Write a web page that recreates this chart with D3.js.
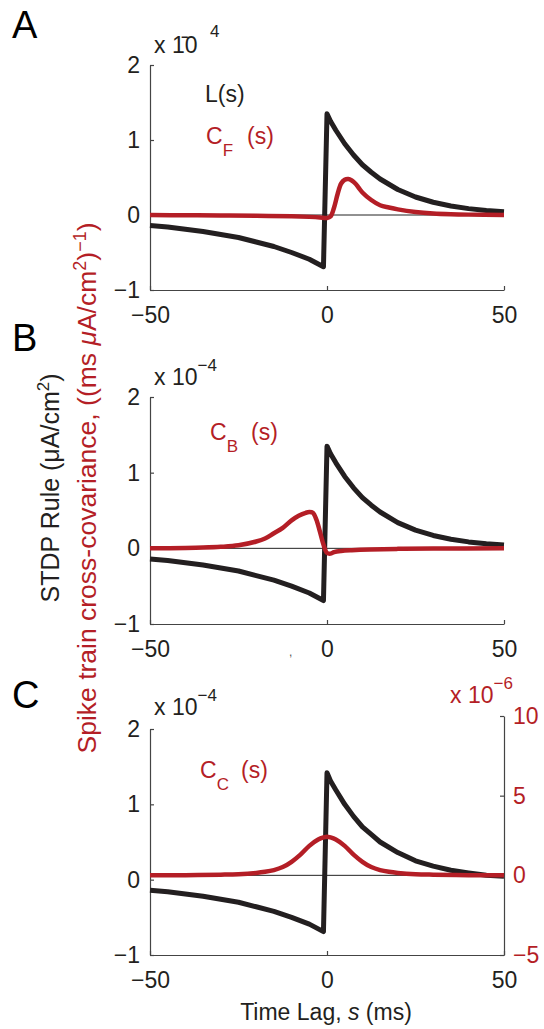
<!DOCTYPE html>
<html>
<head>
<meta charset="utf-8">
<script src="https://cdn.jsdelivr.net/npm/d3@7"></script>
<style>
body { margin: 0; background: #fff; }
svg { font-family: "Liberation Sans", Arial, Helvetica, sans-serif; }
.axis path, .axis line { stroke: #444; stroke-width: 1.2px; }
</style>
</head>
<body>
<div id="fig"></div>
<script>
// lags (ms) and values (x 1e-4)
var stdpLags = [-50, -45, -40, -35, -30, -25, -20, -15, -10, -5, -1, 0, 1, 2.5, 5, 7.5, 10, 12.5, 15, 20, 25, 30, 35, 40, 45, 50];
var stdpAB = [-0.14, -0.16, -0.19, -0.22, -0.26, -0.30, -0.36, -0.42, -0.50, -0.59, -0.69, 1.35, 1.25, 1.13, 0.95, 0.80, 0.67, 0.57, 0.48, 0.34, 0.24, 0.17, 0.12, 0.085, 0.06, 0.045];
var stdpC = [-0.14, -0.16, -0.19, -0.22, -0.26, -0.30, -0.36, -0.42, -0.50, -0.59, -0.69, 1.42, 1.31, 1.19, 1.0, 0.84, 0.70, 0.60, 0.50, 0.36, 0.25, 0.18, 0.125, 0.09, 0.06, 0.045];

var lagsF = [-50, -40, -30, -20, -10, -5, -2, 0, 1, 2, 3, 4, 5, 6, 7, 8, 9, 10, 12.5, 15, 17.5, 20, 25, 30, 35, 40, 50];
var covF = [0, -0.003, -0.006, -0.01, -0.018, -0.025, -0.032, -0.04, -0.02, 0.1, 0.28, 0.42, 0.47, 0.48, 0.46, 0.42, 0.36, 0.30, 0.2, 0.13, 0.10, 0.075, 0.04, 0.02, 0.01, 0.005, 0];

var lagsB = [-50, -40, -35, -30, -25, -20, -17.5, -15, -12.5, -10, -8, -6, -5, -4, -3, -2, -1, 0, 1, 2, 4, 7, 12, 20, 30, 50];
var covB = [0, 0.005, 0.01, 0.02, 0.04, 0.09, 0.13, 0.2, 0.27, 0.37, 0.43, 0.47, 0.48, 0.47, 0.38, 0.22, 0.05, -0.06, -0.07, -0.05, -0.035, -0.025, -0.015, -0.007, -0.003, 0];

// C_C is on the right axis (x 1e-6)
var lagsC = [-50, -40, -30, -25, -20, -17.5, -15, -12.5, -10, -7.5, -5, -2.5, -1, 0, 1, 2.5, 5, 7.5, 10, 12.5, 15, 17.5, 20, 25, 30, 40, 50];
var covC = [0, 0.01, 0.04, 0.07, 0.15, 0.22, 0.33, 0.52, 0.85, 1.3, 1.85, 2.25, 2.38, 2.42, 2.38, 2.25, 1.85, 1.3, 0.85, 0.52, 0.33, 0.22, 0.15, 0.07, 0.04, 0.01, 0];

var xTicks = [-50, 0, 50];
var yTicks = [-1, 0, 1, 2];
var yRightTicks = [-5, 0, 5, 10];

var black = "#231f20", red = "#b41e26";
var W = 544, H = 1029;
var fmt = d3.format("d");

var svg = d3.select("#fig").append("svg")
    .attr("width", W)
    .attr("height", H);

var x = d3.scaleLinear().domain([-50, 50]).range([150, 504]);

function zip(a, b) { return a.map(function (d, i) { return [d, b[i]]; }); }

function drawPanel(cfg) {
    var y = d3.scaleLinear().domain([-1, 2]).range([cfg.bottom, cfg.top]);
    var yz = cfg.yRight || y;

    svg.append("text")
        .attr("x", 12).attr("y", cfg.letterY)
        .style("font-size", "38px").attr("fill", "#000")
        .text(cfg.letter);

    // zero line
    svg.append("line")
        .attr("x1", x(-50)).attr("x2", x(50))
        .attr("y1", yz(0)).attr("y2", yz(0))
        .attr("stroke", "#222").attr("stroke-width", 1);

    var gx = svg.append("g").attr("class", "axis")
        .attr("transform", "translate(0," + cfg.bottom + ")")
        .call(d3.axisBottom(x).tickValues(xTicks).tickFormat(fmt).tickSizeInner(-4).tickSizeOuter(0).tickPadding(17));
    gx.selectAll("text").style("font-size", "23px").attr("fill", black);

    var gy = svg.append("g").attr("class", "axis")
        .attr("transform", "translate(" + x(-50) + ",0)")
        .call(d3.axisLeft(y).tickValues(yTicks).tickFormat(fmt).tickSizeInner(-4).tickSizeOuter(0).tickPadding(10));
    gy.selectAll("text").style("font-size", "23px").attr("fill", black);

    if (cfg.yRight) {
        var gr = svg.append("g").attr("class", "axis")
            .attr("transform", "translate(" + x(50) + ",0)")
            .call(d3.axisRight(cfg.yRight).tickValues(yRightTicks).tickFormat(fmt).tickSizeInner(-4).tickSizeOuter(0).tickPadding(9));
        gr.selectAll("text").style("font-size", "23px").attr("fill", red);
    }

    var line = d3.line().x(function (d) { return x(d[0]); });

    svg.append("path")
        .datum(zip(stdpLags, cfg.stdp))
        .attr("d", line.y(function (d) { return y(d[1]); }).curve(d3.curveLinear))
        .attr("fill", "none").attr("stroke", black)
        .attr("stroke-width", 5).attr("stroke-linejoin", "round");

    svg.append("path")
        .datum(zip(cfg.lags, cfg.cov))
        .attr("d", line.y(function (d) { return yz(d[1]); }).curve(d3.curveCatmullRom))
        .attr("fill", "none").attr("stroke", red)
        .attr("stroke-width", 4.5).attr("stroke-linejoin", "round");

    // exponent label (panel A has the minus printed over the 1)
    var ex = svg.append("text")
        .attr("x", 154).attr("y", cfg.expY)
        .style("font-size", "23px").attr("fill", black);
    if (cfg.letter === "A") {
        ex.append("tspan").text("x 1\u03040");
        ex.append("tspan").attr("x", 210).attr("dy", -16).style("font-size", "17px").text("4");
    } else {
        ex.append("tspan").text("x 10");
        ex.append("tspan").attr("dy", -14).style("font-size", "17px").text("\u22124");
    }

    cfg.labels.forEach(function (l) {
        var t = svg.append("text")
            .attr("x", l.x).attr("y", l.y)
            .style("font-size", "23px").attr("fill", l.color);
        t.append("tspan").text(l.main);
        if (l.sub) {
            t.append("tspan").attr("dy", 12).style("font-size", "17px").text(l.sub);
            t.append("tspan").attr("x", l.x + 41).attr("dy", -12).text("(s)");
        }
    });
}

drawPanel({
    letter: "A", letterY: 38, top: 65, bottom: 290, expY: 53,
    stdp: stdpAB, lags: lagsF, cov: covF,
    labels: [
        { x: 205, y: 102, main: "L(s)", color: black },
        { x: 206, y: 144, main: "C", sub: "F", color: red }
    ]
});

drawPanel({
    letter: "B", letterY: 351, top: 397, bottom: 624, expY: 385,
    stdp: stdpAB, lags: lagsB, cov: covB,
    labels: [
        { x: 210, y: 440, main: "C", sub: "B", color: red }
    ]
});

var yRightC = d3.scaleLinear().domain([-5, 10]).range([955, 716]);
drawPanel({
    letter: "C", letterY: 708, top: 729, bottom: 955, expY: 715,
    stdp: stdpC, lags: lagsC, cov: covC, yRight: yRightC,
    labels: [
        { x: 200, y: 778, main: "C", sub: "C", color: red }
    ]
});

// right exponent label for panel C
var exr = svg.append("text")
    .attr("x", 450).attr("y", 703)
    .style("font-size", "23px").attr("fill", red);
exr.append("tspan").text("x 10");
exr.append("tspan").attr("dy", -14).style("font-size", "17px").text("\u22126");

// stray mark under panel B
svg.append("text")
    .attr("x", 289).attr("y", 656)
    .style("font-size", "12px").attr("fill", "#555")
    .text(",");

// y axis titles
var yl1 = svg.append("text")
    .attr("transform", "translate(59,488) rotate(-90)")
    .attr("text-anchor", "middle")
    .style("font-size", "25px").attr("fill", black);
yl1.append("tspan").text("STDP Rule (\u03bcA/cm");
yl1.append("tspan").attr("dy", -10).style("font-size", "17px").text("2");
yl1.append("tspan").attr("dy", 10).text(")");

var yl2 = svg.append("text")
    .attr("transform", "translate(96,488) rotate(-90)")
    .attr("text-anchor", "middle")
    .style("font-size", "26.5px").attr("fill", red);
yl2.append("tspan").text("Spike train cross-covariance,  ((ms  ");
yl2.append("tspan").style("font-style", "italic").text("\u03bc");
yl2.append("tspan").text("A/cm");
yl2.append("tspan").attr("dy", -10).style("font-size", "18px").text("2");
yl2.append("tspan").attr("dy", 10).text(")");
yl2.append("tspan").attr("dy", -10).style("font-size", "18px").text("\u22121");
yl2.append("tspan").attr("dy", 10).text(")");

// x axis title
var xl = svg.append("text")
    .attr("x", 326).attr("y", 1020)
    .attr("text-anchor", "middle")
    .style("font-size", "23px").attr("fill", black);
xl.append("tspan").text("Time Lag, ");
xl.append("tspan").style("font-style", "italic").text("s");
xl.append("tspan").text(" (ms)");
</script>
</body>
</html>
